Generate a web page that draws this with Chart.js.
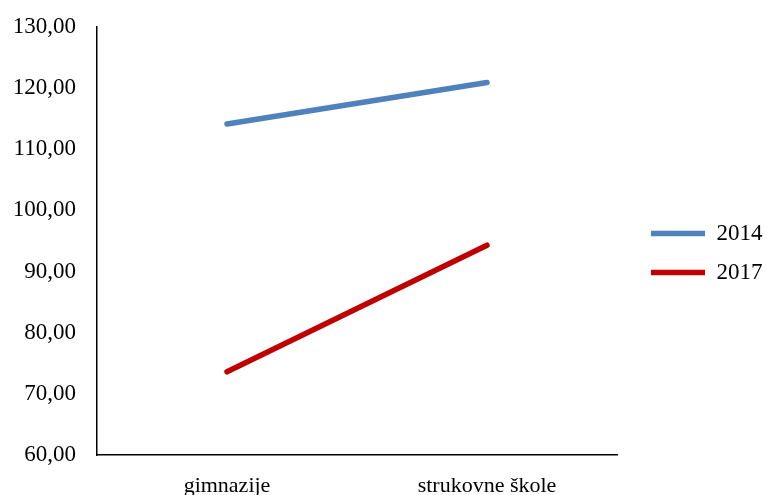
<!DOCTYPE html>
<html>
<head>
<meta charset="utf-8">
<script src="https://cdn.jsdelivr.net/npm/chart.js@4"></script>
<style>
  html, body { margin: 0; padding: 0; background: #fff; }
  #wrap { width: 767px; height: 495px; }
</style>
</head>
<body>
<div id="wrap"><canvas id="lineChart" width="767" height="495"></canvas></div>
<script>
const categories = ['gimnazije', 'strukovne škole'];
const values2014 = [114.1, 120.9];
const values2017 = [73.6, 94.3];
const yTicks = [60, 70, 80, 90, 100, 110, 120, 130];

const serif = '"Liberation Serif", "Times New Roman", serif';

// legend box wide enough that the plot ends where the original does,
// then nudge the legend items to the right
const legendWidthPlugin = {
  id: 'legendWidth',
  afterInit(chart) {
    const legend = chart.legend;
    if (!legend) return;
    const origFit = legend.fit;
    legend.fit = function () {
      origFit.call(this);
      this.width = 150;
    };
  },
  afterLayout(chart) {
    if (chart.legend) chart.legend.left += 18;
  }
};

const ctx = document.getElementById('lineChart').getContext('2d');
const lineChart = new Chart(ctx, {
  type: 'line',
  data: {
    labels: categories,
    datasets: [
      {
        label: '2014',
        data: values2014,
        borderColor: '#4f81bd',
        backgroundColor: '#4f81bd',
        borderWidth: 5.5,
        borderCapStyle: 'round',
        pointRadius: 0,
        fill: false,
      },
      {
        label: '2017',
        data: values2017,
        borderColor: '#c00000',
        backgroundColor: '#c00000',
        borderWidth: 5.5,
        borderCapStyle: 'round',
        pointRadius: 0,
        fill: false,
      }
    ]
  },
  options: {
    responsive: false,
    animation: false,
    layout: {
      padding: { top: 11, right: 0, left: 0, bottom: 0 }
    },
    plugins: {
      tooltip: { enabled: false },
      legend: {
        position: 'right',
        labels: {
          usePointStyle: true,
          pointStyle: 'line',
          pointStyleWidth: 54,
          padding: 16,
          color: '#000',
          font: { family: serif, size: 23 },
        },
      },
    },
    scales: {
      x: {
        offset: true,
        grid: { display: false },
        border: { display: true, color: '#000', width: 1.5 },
        ticks: {
          color: '#000',
          padding: 10,
          font: { family: serif, size: 22 },
        },
        afterFit: (scale) => { scale.height = 40; },
      },
      y: {
        min: 60,
        max: 130,
        grid: { display: false },
        border: { display: true, color: '#000', width: 1.5 },
        afterBuildTicks: (scale) => {
          scale.ticks = yTicks.map(v => ({ value: v }));
        },
        ticks: {
          color: '#000',
          padding: 13,
          font: { family: serif, size: 23 },
          callback: (value) => value.toFixed(2).replace('.', ','),
        },
        afterFit: (scale) => { scale.width = 97; },
      },
    },
  },
  plugins: [legendWidthPlugin]
});
</script>
</body>
</html>
